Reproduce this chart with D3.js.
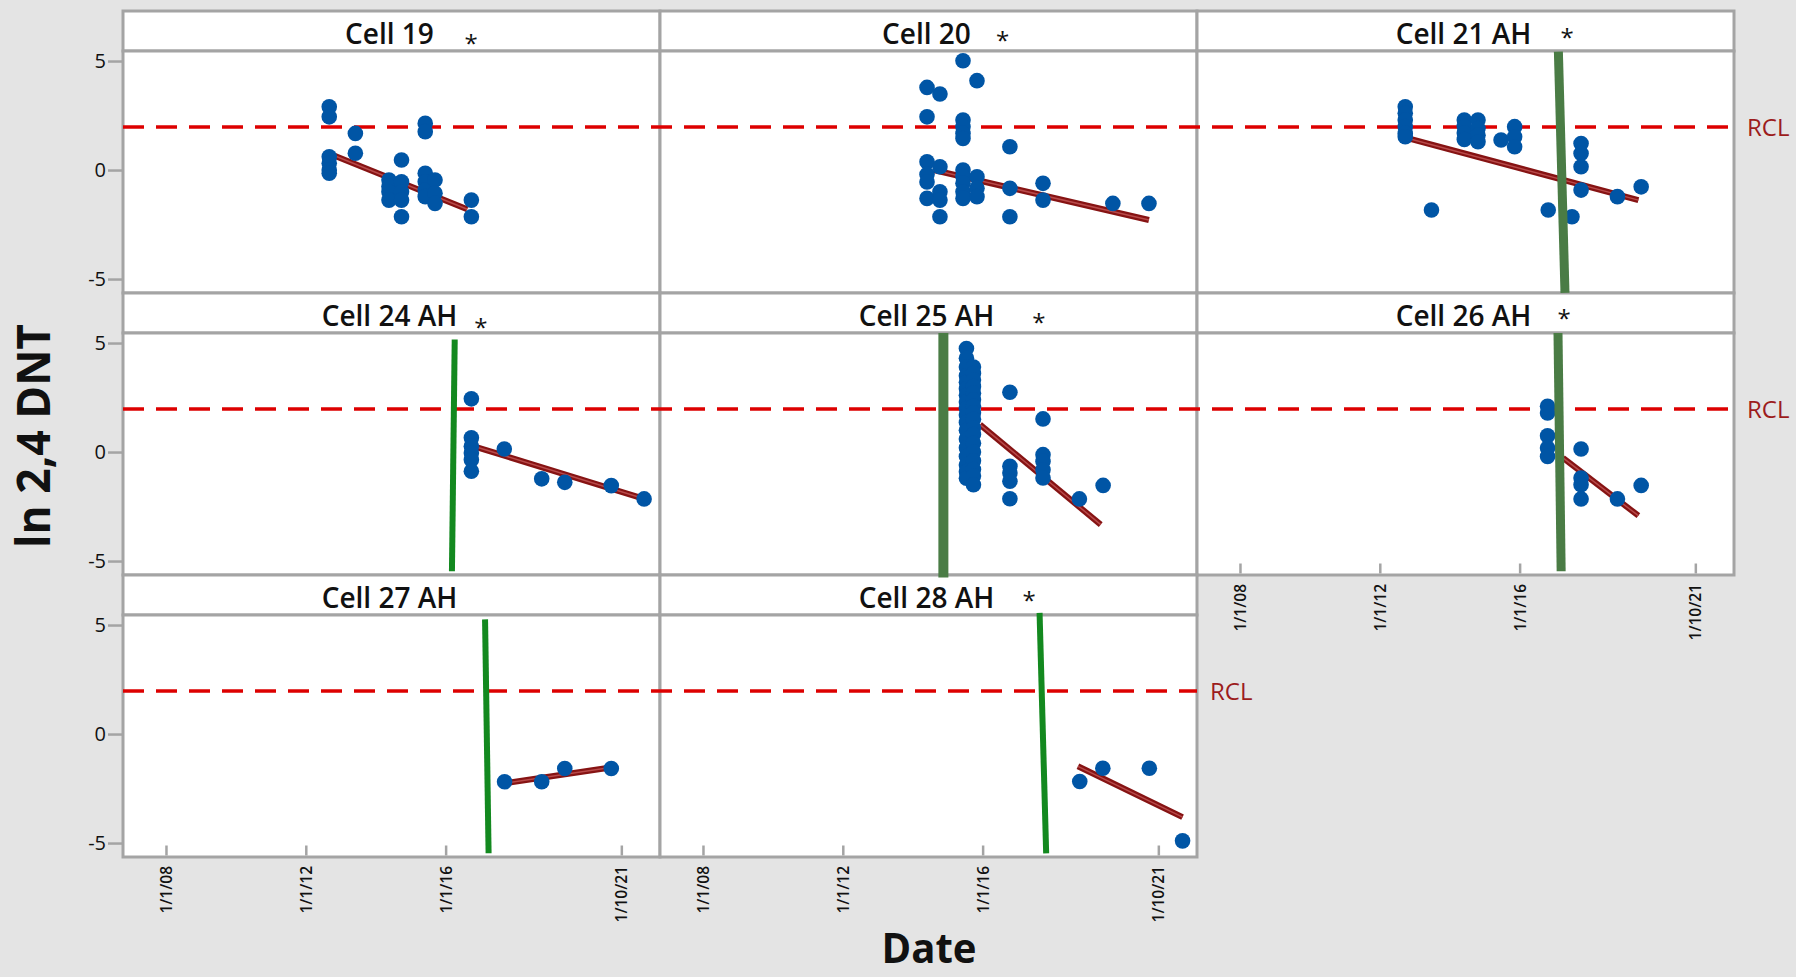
<!DOCTYPE html>
<html>
<head>
<meta charset="utf-8">
<script src="https://cdn.jsdelivr.net/npm/d3@7"></script>
<style>
  html, body { margin: 0; padding: 0; background: #e4e4e4; }
  svg { display: block; font-family: "Open Sans", "Noto Sans", sans-serif; }
</style>
</head>
<body>
<svg id="chart" width="1796" height="977"></svg>
<script>
// ---------------- data ----------------
const cellNames = ["Cell 19", "Cell 20", "Cell 21 AH", "Cell 24 AH", "Cell 25 AH", "Cell 26 AH", "Cell 27 AH", "Cell 28 AH"];

// ln(2,4-DNT) results, grouped by sampling date
const cell19 = [
  ["2012-09-02", [2.90, 2.44, 0.61, 0.31, 0.00, -0.15]],
  ["2013-06-02", [1.68, 0.77]],
  ["2014-05-19", [-0.46, -0.75, -1.00, -1.38]],
  ["2014-09-27", [0.46, -0.54, -1.00, -1.38, -2.14]],
  ["2015-06-02", [2.14, 1.76, -0.15, -0.54, -0.92, -1.22]],
  ["2015-09-12", [-0.46, -1.07, -1.53]],
  ["2016-09-26", [-1.38, -2.14]]
];
const cell20 = [
  ["2014-05-30", [3.79, 2.44, 0.38, -0.20, -0.55, -1.30]],
  ["2014-10-12", [3.49, 0.15, -1.00, -1.38, -2.14]],
  ["2015-06-10", [5.01, 2.29, 1.99, 1.68, 1.45, 0.00, -0.30, -0.61, -1.00, -1.30]],
  ["2015-11-03", [4.10, -0.31, -0.84, -1.22]],
  ["2016-10-12", [1.07, -0.84, -2.14]],
  ["2017-09-23", [-0.61, -1.38]],
  ["2019-09-23", [-1.53]],
  ["2020-10-04", [-1.53]]
];
const cell21 = [
  ["2012-09-23", [2.90, 2.60, 2.29, 1.99, 1.68, 1.53]],
  ["2013-06-24", [-1.83]],
  ["2014-06-02", [2.29, 2.00, 1.70, 1.40]],
  ["2014-10-23", [2.29, 1.90, 1.60, 1.30]],
  ["2015-06-21", [1.38]],
  ["2015-11-10", [1.99, 1.53, 1.07]],
  ["2016-10-26", [-1.83]],
  ["2017-07-01", [-2.14]],
  ["2017-10-04", [1.22, 0.76, 0.15, -0.92]],
  ["2018-10-19", [-1.22]],
  ["2019-06-24", [-0.77]]
];
const cell24 = [
  ["2016-09-26", [2.44, 0.65, 0.26, -0.04, -0.35, -0.88]],
  ["2017-09-05", [0.14]],
  ["2018-10-01", [-1.23]],
  ["2019-05-30", [-1.39]],
  ["2020-09-27", [-1.54]],
  ["2021-09-05", [-2.15]]
];
const cell25 = [
  ["2015-07-16", [4.75, 4.30, 3.90, 3.50, 3.20, 2.90, 2.60, 2.30, 2.00, 1.70, 1.35, 1.00, 0.60, 0.20, -0.20, -0.60, -0.90, -1.20]],
  ["2015-09-27", [3.90, 3.60, 3.30, 3.00, 2.70, 2.40, 2.10, 1.80, 1.50, 1.10, 0.80, 0.40, 0.00, -0.40, -0.80, -1.10, -1.50]],
  ["2016-10-12", [2.74, -0.65, -0.96, -1.34, -2.14]],
  ["2017-09-23", [1.52, -0.12, -0.43, -0.81, -1.19]],
  ["2018-10-08", [-2.15]],
  ["2019-06-13", [-1.53]]
];
const cell26 = [
  ["2016-10-19", [2.10, 1.79, 0.75, 0.19, -0.20]],
  ["2017-10-04", [0.14, -1.19, -1.50, -2.15]],
  ["2018-10-19", [-2.15]],
  ["2019-06-24", [-1.53]]
];
const cell27 = [
  ["2017-09-08", [-2.19]],
  ["2018-10-01", [-2.19]],
  ["2019-05-30", [-1.58]],
  ["2020-09-27", [-1.58]]
];
const cell28 = [
  ["2018-10-12", [-2.18]],
  ["2019-06-10", [-1.57]],
  ["2020-10-08", [-1.57]],
  ["2021-09-20", [-4.90]]
];
const cellSeries = [cell19, cell20, cell21, cell24, cell25, cell26, cell27, cell28];

// fitted trend per cell: [start, end] as [date, value]
const trendLines = [
  [["2012-10-08", 0.69], ["2016-08-14", -1.80]],
  [["2014-08-07", 0.00], ["2020-10-04", -2.29]],
  [["2012-10-26", 1.45], ["2019-05-26", -1.38]],
  [["2016-11-17", 0.23], ["2021-08-11", -2.11]],
  [["2015-12-05", 1.26], ["2019-05-19", -3.33]],
  [["2017-03-29", -0.27], ["2019-05-26", -2.92]],
  [["2017-10-04", -2.24], ["2020-10-08", -1.52]],
  [["2018-09-23", -1.48], ["2021-09-20", -3.81]]
];

// remediation marker per cell: [top, bottom] as [date, value]
const remediationLines = [
  null,
  null,
  [["2017-02-09", 5.43], ["2017-04-19", -5.63]],
  [["2016-04-05", 5.16], ["2016-03-07", -5.47]],
  [["2014-11-17", 5.46], ["2014-11-17", -5.75]],
  [["2017-02-05", 5.46], ["2017-03-10", -5.47]],
  [["2017-02-16", 5.26], ["2017-03-25", -5.47]],
  [["2017-08-18", 5.56], ["2017-10-26", -5.47]]
];

// cells flagged with an asterisk, and where the flag sits on the date axis
const asteriskDates = ["2016-09-24", "2016-07-27", "2017-05-11", "2017-01-04", "2017-08-11", "2017-04-09", null, "2017-04-30"];

const rclValue = 1.97;
const rclLabel = "RCL";
const xTickDates = ["2008-01-01", "2012-01-01", "2016-01-01", "2021-01-10"];
const yTickValues = [-5, 0, 5];
const xDomain = ["2006-10-09", "2022-02-18"];
const yDomain = [-5.64, 5.46];

// ---------------- layout & style ----------------
const W = 1796, H = 977;
const left0 = 123, colW = 537, stripH = 40, plotH = 242;
const rowTops = [11, 293, 575];
const nCols = 3;
const borderColor = "#a4a4a4";
const dotColor = "#0055a5";
const markerStyle = {
  dark:   { color: "#4a7c45", width: 9 },
  wide:   { color: "#4a7c45", width: 10 },
  bright: { color: "#13891f", width: 6 }
};
const markerKind = [null, null, "dark", "bright", "wide", "dark", "bright", "bright"];
const asteriskCenterY = [27, 24, 21.5, 29, 24.5, 20, null, 20];

const parse = d3.timeParse("%Y-%m-%d");
const svg = d3.select("#chart");

svg.append("rect").attr("width", W).attr("height", H).attr("fill", "#e4e4e4");

const x = d3.scaleTime().domain(xDomain.map(parse)).range([0, colW]);
const y = d3.scaleLinear().domain(yDomain).range([plotH, 0]);

const panels = cellNames.map((name, i) => {
  const col = i % nCols, row = Math.floor(i / nCols);
  return { name, i, col, row, left: left0 + col * colW, top: rowTops[row] };
});
const nRows = rowTops.length;

// panel frames: title strip + plotting area
const frames = svg.append("g");
panels.forEach(p => {
  const g = frames.append("g").attr("transform", `translate(${p.left},${p.top})`);
  g.append("rect").attr("x", 0).attr("y", 0).attr("width", colW).attr("height", stripH)
    .attr("fill", "#fff").attr("stroke", borderColor).attr("stroke-width", 3);
  g.append("rect").attr("x", 0).attr("y", stripH).attr("width", colW).attr("height", plotH)
    .attr("fill", "#fff").attr("stroke", borderColor).attr("stroke-width", 3);
  g.append("text")
    .attr("x", colW / 2 - 2).attr("y", 33)
    .attr("text-anchor", "middle")
    .attr("font-size", 28).attr("font-weight", 600).attr("fill", "#111")
    .text(p.name);
  if (asteriskDates[p.i]) {
    const fs = 24;
    g.append("text")
      .attr("x", x(parse(asteriskDates[p.i])))
      .attr("y", asteriskCenterY[p.i] + 0.58 * fs)
      .attr("text-anchor", "middle")
      .attr("font-size", fs).attr("fill", "#111")
      .text("*");
  }
});

// RCL reference line across each row
const rclLayer = svg.append("g");
for (let r = 0; r < nRows; r++) {
  const inRow = panels.filter(p => p.row === r).length;
  const yy = rowTops[r] + stripH + y(rclValue);
  const xEnd = left0 + inRow * colW;
  rclLayer.append("line")
    .attr("x1", left0).attr("x2", xEnd).attr("y1", yy).attr("y2", yy)
    .attr("stroke", "#dd0000").attr("stroke-width", 3.5)
    .attr("stroke-dasharray", "21 12");
  rclLayer.append("text")
    .attr("x", xEnd + 13).attr("y", yy + 8.5)
    .attr("font-size", 24).attr("fill", "#9c1c1c")
    .text(rclLabel);
}

// panel contents
panels.forEach(p => {
  const g = svg.append("g").attr("transform", `translate(${p.left},${p.top + stripH})`);

  // trend
  const t = trendLines[p.i];
  const tl = g.append("g");
  [["#861313", 6], ["#b84a4a", 1.5]].forEach(([c, w]) => {
    tl.append("line")
      .attr("x1", x(parse(t[0][0]))).attr("y1", y(t[0][1]))
      .attr("x2", x(parse(t[1][0]))).attr("y2", y(t[1][1]))
      .attr("stroke", c).attr("stroke-width", w);
  });

  // observations
  const pts = cellSeries[p.i].flatMap(([d, vals]) => vals.map(v => ({ date: parse(d), value: v })));
  g.append("g").selectAll("circle").data(pts).join("circle")
    .attr("cx", d => x(d.date)).attr("cy", d => y(d.value))
    .attr("r", 7.8).attr("fill", dotColor);

  // remediation marker
  const m = remediationLines[p.i];
  if (m) {
    const st = markerStyle[markerKind[p.i]];
    g.append("line")
      .attr("x1", x(parse(m[0][0]))).attr("y1", y(m[0][1]))
      .attr("x2", x(parse(m[1][0]))).attr("y2", y(m[1][1]))
      .attr("stroke", st.color).attr("stroke-width", st.width);
  }

  // y axis on first column
  if (p.col === 0) {
    const ax = g.append("g").call(
      d3.axisLeft(y).tickValues(yTickValues).tickSize(15).tickPadding(2).tickFormat(d => String(d))
    );
    ax.select(".domain").remove();
    ax.selectAll(".tick line").attr("stroke", borderColor).attr("stroke-width", 2.5);
    ax.selectAll(".tick text").attr("font-size", 20).attr("fill", "#111")
      .attr("font-family", "'Open Sans', sans-serif");
  }

  // date axis under the last panel of each column
  const lastInCol = !panels.some(q => q.col === p.col && q.row > p.row);
  if (lastInCol) {
    const ax = g.append("g").attr("transform", `translate(0,${plotH})`).call(
      d3.axisBottom(x).tickValues(xTickDates.map(parse)).tickSize(-10)
        .tickFormat(d3.timeFormat("%-m/%-d/%y"))
    );
    ax.select(".domain").remove();
    ax.selectAll(".tick line").attr("stroke", borderColor).attr("stroke-width", 2.5)
      .attr("transform", "translate(0,-1.5)");
    ax.selectAll(".tick text")
      .attr("transform", "rotate(-90)")
      .attr("x", -9).attr("y", 0).attr("dy", "0.35em")
      .attr("text-anchor", "end")
      .attr("font-size", 15.5).attr("font-weight", 600).attr("fill", "#111")
      .attr("font-family", "'Open Sans', sans-serif");
  }
});

// axis titles
svg.append("text")
  .attr("transform", "translate(50,436) rotate(-90)")
  .attr("text-anchor", "middle")
  .attr("font-size", 46).attr("font-weight", 700).attr("fill", "#111")
  .attr("textLength", 224).attr("lengthAdjust", "spacingAndGlyphs")
  .text("ln 2,4 DNT");

svg.append("text")
  .attr("x", 929).attr("y", 963)
  .attr("text-anchor", "middle")
  .attr("font-size", 42).attr("font-weight", 700).attr("fill", "#111")
  .attr("textLength", 95).attr("lengthAdjust", "spacingAndGlyphs")
  .text("Date");
</script>
</body>
</html>
